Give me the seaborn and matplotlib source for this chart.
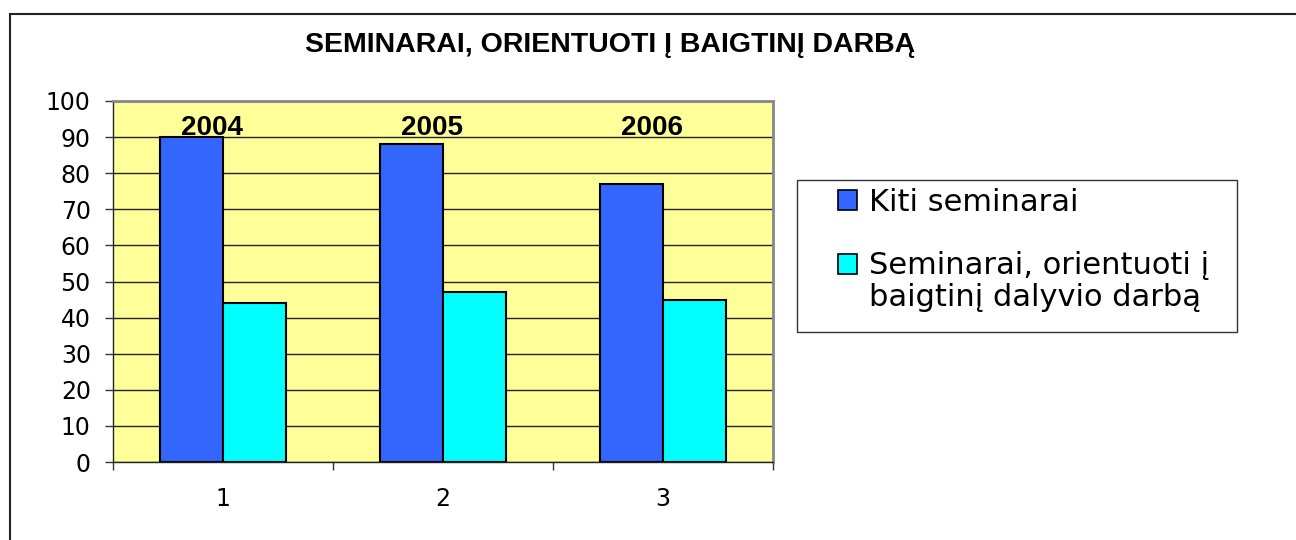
import matplotlib.pyplot as plt
import matplotlib.patches as mpatches
from matplotlib.legend_handler import HandlerPatch
import seaborn as sns
import pandas as pd

plt.switch_backend("Agg")

categories = ["1", "2", "3"]
years = ["2004", "2005", "2006"]
series = ["Kiti seminarai", "Seminarai, orientuoti į\nbaigtinį dalyvio darbą"]
kiti = [90, 88, 77]
orientuoti = [44, 47, 45]

title = "SEMINARAI, ORIENTUOTI Į BAIGTINĮ DARBĄ"
colors = ["#3366FF", "#00FFFF"]


def build_frame():
    rows = []
    for name, vals in zip(series, [kiti, orientuoti]):
        for cat, v in zip(categories, vals):
            rows.append({"Kategorija": cat, "Serija": name, "Reikšmė": v})
    return pd.DataFrame(rows)


def raised_patch(legend, orig_handle, xdescent, ydescent, width, height, fontsize):
    # square next to the first line of a two-line label
    return mpatches.Rectangle((-xdescent, -ydescent + 0.6 * fontsize), width, height)


def main():
    df = build_frame()
    sns.set_style("ticks")
    plt.rcParams["font.family"] = ["DejaVu Sans"]
    plt.rcParams["text.color"] = "black"
    plt.rcParams["xtick.labelcolor"] = "black"
    plt.rcParams["ytick.labelcolor"] = "black"

    fig = plt.figure(figsize=(12.96, 5.4), dpi=100)
    ax = fig.add_axes([113 / 1296, 1 - 462 / 540, 660 / 1296, 361 / 540])
    ax.set_facecolor("#FFFF99")

    sns.barplot(data=df, x="Kategorija", y="Reikšmė", hue="Serija",
                palette=colors, width=0.573, gap=0, edgecolor="black",
                linewidth=1.5, saturation=1, ax=ax)
    ax.get_legend().remove()

    ax.set_ylim(0, 100)
    ax.set_xlim(-0.5, 2.5)
    ax.set_yticks(range(0, 101, 10))
    ax.yaxis.grid(True, color="#222222", linewidth=1)
    ax.set_axisbelow(True)
    ax.set_xlabel("")
    ax.set_ylabel("")

    ax.set_xticks(range(len(categories)))
    ax.set_xticklabels(categories)
    ax.set_xticks([-0.5, 0.5, 1.5, 2.5], minor=True)
    ax.tick_params(axis="x", which="major", length=0, pad=18, labelsize=17)
    ax.tick_params(axis="x", which="minor", length=6, width=1, color="#333333")
    ax.tick_params(axis="y", length=6, width=1, pad=10, labelsize=17, color="#333333")

    for side in ["left", "bottom"]:
        ax.spines[side].set_color("#222222")
        ax.spines[side].set_linewidth(1)
    for side in ["top", "right"]:
        ax.spines[side].set_visible(True)
        ax.spines[side].set_color("#888888")
        ax.spines[side].set_linewidth(2)

    for i, yr in enumerate(years):
        ax.text(i - 0.05, 88.8, yr, ha="center", va="bottom", fontsize=20,
                fontweight="bold", family=["Liberation Sans", "DejaVu Sans"])

    fig.text(610 / 1296, 1 - 45 / 540, title, ha="center", va="center",
             fontsize=20.5, fontweight="bold", family=["Liberation Sans", "DejaVu Sans"])

    handles = [mpatches.Patch(facecolor=c, edgecolor="black", linewidth=1.2) for c in colors]
    leg = fig.legend(handles, series, loc="upper left",
                     bbox_to_anchor=(838 / 1296, 1 - 188 / 540), bbox_transform=fig.transFigure,
                     fontsize=22, frameon=False, borderaxespad=0, borderpad=0,
                     handlelength=0.62, handleheight=0.62, handletextpad=0.4,
                     labelspacing=1.1,
                     handler_map={handles[1]: HandlerPatch(patch_func=raised_patch)})
    for t in leg.get_texts():
        t.set_linespacing(1.15)

    legend_box = mpatches.Rectangle((797 / 1296, 1 - 332 / 540), 440 / 1296, 152 / 540,
                                    transform=fig.transFigure, fill=True, facecolor="white",
                                    edgecolor="#333333", linewidth=1, zorder=-1)
    fig.patches.append(legend_box)

    frame = mpatches.Rectangle((10 / 1296, -0.2), 1.2, 1 - 14 / 540 + 0.2,
                               transform=fig.transFigure, fill=False,
                               edgecolor="#222222", linewidth=1.5, clip_on=False)
    fig.patches.append(frame)

    fig.savefig("out.png", dpi=100)
    plt.close(fig)


main()
